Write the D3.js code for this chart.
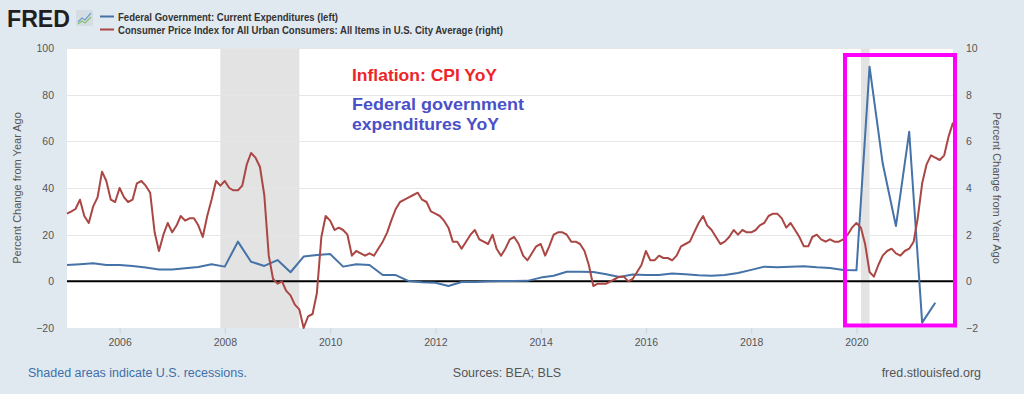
<!DOCTYPE html>
<html>
<head>
<meta charset="utf-8">
<script src="https://cdn.jsdelivr.net/npm/d3@7"></script>
<style>
  html, body { margin: 0; padding: 0; background: #e1e9f0; }
  svg { display: block; font-family: "Liberation Sans", Arial, sans-serif; }
</style>
</head>
<body>
<svg id="chart" width="1024" height="394"></svg>
<script>
// ---------- DATA ----------
const cpiStart = "2005-01-01";   // monthly, YoY % (right axis)
const cpiValues = [
  2.9, 3.0, 3.1, 3.5, 2.8, 2.5, 3.2, 3.6, 4.7, 4.3, 3.5, 3.4,
  4.0, 3.6, 3.4, 3.5, 4.2, 4.3, 4.1, 3.8, 2.1, 1.3, 2.0, 2.5,
  2.1, 2.4, 2.8, 2.6, 2.7, 2.7, 2.4, 1.9, 2.8, 3.5, 4.3, 4.1,
  4.3, 4.0, 3.9, 3.9, 4.1, 5.0, 5.5, 5.3, 4.9, 3.7, 1.1, 0.1,
  -0.1, 0.0, -0.4, -0.6, -1.0, -1.2, -2.0, -1.5, -1.4, -0.5, 1.9, 2.8,
  2.6, 2.2, 2.3, 2.2, 2.0, 1.1, 1.3, 1.2, 1.1, 1.2, 1.1, 1.4,
  1.7, 2.1, 2.6, 3.1, 3.4, 3.5, 3.6, 3.7, 3.8, 3.5, 3.4, 3.0,
  2.9, 2.8, 2.6, 2.3, 1.7, 1.7, 1.4, 1.7, 2.0, 2.2, 1.8, 1.7,
  1.6, 2.0, 1.4, 1.1, 1.4, 1.8, 1.9, 1.6, 1.1, 0.9, 1.2, 1.5,
  1.6, 1.1, 1.5, 2.0, 2.1, 2.1, 2.0, 1.7, 1.7, 1.6, 1.3, 0.7,
  -0.2, -0.1, -0.1, -0.1, 0.0, 0.1, 0.2, 0.2, 0.0, 0.1, 0.4, 0.7,
  1.3, 0.9, 0.9, 1.1, 1.0, 1.0, 0.9, 1.1, 1.5, 1.6, 1.7, 2.1,
  2.5, 2.8, 2.4, 2.2, 1.9, 1.6, 1.7, 1.9, 2.2, 2.0, 2.2, 2.1,
  2.1, 2.2, 2.4, 2.5, 2.8, 2.9, 2.9, 2.7, 2.3, 2.5, 2.2, 1.9,
  1.5, 1.5, 1.9, 2.0, 1.8, 1.7, 1.8, 1.7, 1.7, 1.8, 2.0, 2.3,
  2.5, 2.3, 1.6, 0.4, 0.2, 0.7, 1.1, 1.3, 1.4, 1.2, 1.1, 1.3,
  1.4, 1.7, 2.7, 4.2, 5.0, 5.4, 5.3, 5.2, 5.4, 6.2, 6.8
];
const fedStart = "2005-01-01";   // quarterly, YoY % (left axis)
const fedValues = [
  7.0, 7.3, 7.7, 7.0,
  7.0, 6.6, 5.9, 5.1,
  5.1, 5.6, 6.1, 7.3,
  6.3, 17.0, 8.4, 6.6,
  9.1, 3.9, 10.6, 11.3,
  11.7, 6.3, 7.3, 7.0,
  2.7, 2.7, 0.1, -0.4,
  -0.6, -2.0, -0.3, -0.3,
  0.0, 0.1, 0.1, 0.2,
  1.6, 2.4, 4.1, 4.1,
  4.0, 3.0, 1.9, 2.9,
  2.7, 2.7, 3.4, 3.0,
  2.6, 2.4, 2.7, 3.6,
  4.9, 6.3, 6.0, 6.3,
  6.5, 6.0, 5.7, 4.9,
  4.7, 92.0, 50.6, 23.7,
  64.1, -17.7, -9.2
];
const recessions = [["2007-12-01", "2009-06-01"], ["2020-02-01", "2020-04-01"]];
const xDomain = ["2005-01-01", "2021-11-01"];
const xTickYears = [2006, 2008, 2010, 2012, 2014, 2016, 2018, 2020];
const leftTicks = [-20, 0, 20, 40, 60, 80, 100];
const rightTicks = [-2, 0, 2, 4, 6, 8, 10];
const legendLabels = [
  "Federal Government: Current Expenditures (left)",
  "Consumer Price Index for All Urban Consumers: All Items in U.S. City Average (right)"
];
const axisTitle = "Percent Change from Year Ago";
const annotations = ["Inflation: CPI YoY", "Federal government", "expenditures YoY"];
const footer = ["Shaded areas indicate U.S. recessions.", "Sources: BEA; BLS", "fred.stlouisfed.org"];

// ---------- LAYOUT ----------
const P = { left: 67, right: 953, top: 48, bottom: 328 };
const BLUE = "#4572a7", RED = "#aa4643";
const parse = d3.timeParse("%Y-%m-%d");

const svg = d3.select("#chart");
const x = d3.scaleTime().domain(xDomain.map(parse)).range([P.left, P.right]);
const yL = d3.scaleLinear().domain([-20, 100]).range([P.bottom, P.top]);
const yR = d3.scaleLinear().domain([-2, 10]).range([P.bottom, P.top]);

const cpi = cpiValues.map((v, i) => ({ date: d3.timeMonth.offset(parse(cpiStart), i), v }));
const fed = fedValues.map((v, i) => ({ date: d3.timeMonth.offset(parse(fedStart), i * 3), v }));

// plot background
svg.append("rect").attr("x", P.left).attr("y", P.top)
  .attr("width", P.right - P.left).attr("height", P.bottom - P.top).attr("fill", "#ffffff");

// recessions
svg.append("g").selectAll("rect").data(recessions).join("rect")
  .attr("x", d => x(parse(d[0])))
  .attr("width", d => x(parse(d[1])) - x(parse(d[0])))
  .attr("y", P.top).attr("height", P.bottom - P.top)
  .attr("fill", "#e3e3e3");

// gridlines
svg.append("g").selectAll("line").data(leftTicks.filter(t => t !== -20)).join("line")
  .attr("x1", P.left).attr("x2", P.right)
  .attr("y1", d => Math.round(yL(d)) + 0.5).attr("y2", d => Math.round(yL(d)) + 0.5)
  .attr("stroke", "#e6e6e6").attr("stroke-width", 1);

// zero line
svg.append("line").attr("x1", P.left).attr("x2", P.right)
  .attr("y1", yL(0)).attr("y2", yL(0)).attr("stroke", "#000").attr("stroke-width", 2);

// left axis
const gL = svg.append("g").attr("transform", `translate(${P.left},0)`)
  .call(d3.axisLeft(yL).tickValues(leftTicks).tickSize(0).tickPadding(13));
gL.select(".domain").remove();
gL.selectAll("text").attr("fill", "#555").attr("font-size", 10.5).attr("font-family", "Liberation Sans, Arial, sans-serif");

// right axis
const gR = svg.append("g").attr("transform", `translate(${P.right},0)`)
  .call(d3.axisRight(yR).tickValues(rightTicks).tickSize(0).tickPadding(13));
gR.select(".domain").remove();
gR.selectAll("text").attr("fill", "#555").attr("font-size", 10.5).attr("font-family", "Liberation Sans, Arial, sans-serif");

// bottom axis
const gB = svg.append("g").attr("transform", `translate(0,${P.bottom})`)
  .call(d3.axisBottom(x).tickValues(xTickYears.map(y => new Date(y, 0, 1)))
    .tickFormat(d3.timeFormat("%Y")).tickSize(6).tickPadding(5));
gB.select(".domain").remove();
gB.selectAll("line").attr("stroke", "#c8d4e0");
gB.selectAll("text").attr("fill", "#555").attr("font-size", 10.5)
  .attr("font-family", "Liberation Sans Narrow, Liberation Sans, Arial, sans-serif");

// lines
svg.append("path").datum(fed)
  .attr("fill", "none").attr("stroke", BLUE).attr("stroke-width", 2).attr("stroke-linejoin", "round")
  .attr("d", d3.line().x(d => x(d.date)).y(d => yL(d.v)));
svg.append("path").datum(cpi)
  .attr("fill", "none").attr("stroke", RED).attr("stroke-width", 2).attr("stroke-linejoin", "round")
  .attr("d", d3.line().x(d => x(d.date)).y(d => yR(d.v)));

// axis titles
svg.append("text").attr("transform", `translate(21,${(P.top + P.bottom) / 2}) rotate(-90)`)
  .attr("text-anchor", "middle").attr("font-size", 11).attr("fill", "#555").text(axisTitle);
svg.append("text").attr("transform", `translate(993,${(P.top + P.bottom) / 2}) rotate(90)`)
  .attr("text-anchor", "middle").attr("font-size", 11).attr("fill", "#555").text(axisTitle);

// annotations
const annSpec = [
  { y: 81, fill: "#ee2428", len: 145 },
  { y: 110, fill: "#4a50c8", len: 172 },
  { y: 130, fill: "#4a50c8", len: 147 }
];
annotations.forEach((t, i) => {
  svg.append("text").attr("x", 352).attr("y", annSpec[i].y).attr("font-size", 17).attr("font-weight", "bold")
    .attr("fill", annSpec[i].fill).attr("textLength", annSpec[i].len).attr("lengthAdjust", "spacingAndGlyphs").text(t);
});

// magenta highlight box
svg.append("rect").attr("x", 845).attr("y", 55).attr("width", 110).attr("height", 270.5)
  .attr("fill", "none").attr("stroke", "#ff00ff").attr("stroke-width", 4);

// FRED logo
svg.append("text").attr("x", 7).attr("y", 27).attr("font-size", 24).attr("font-weight", "bold")
  .attr("fill", "#1f1f1f").attr("textLength", 63).attr("lengthAdjust", "spacingAndGlyphs").text("FRED");
const logo = svg.append("g").attr("transform", "translate(76,10)");
logo.append("rect").attr("width", 17).attr("height", 16).attr("rx", 1).attr("fill", "#d5dde4");
logo.append("path").attr("d", "M2,12 L6,8 L9,10 L15,3").attr("fill", "none").attr("stroke", "#6fa0c8").attr("stroke-width", 1.2);
logo.append("path").attr("d", "M2,14 L6,11 L9,13 L15,7").attr("fill", "none").attr("stroke", "#8abf6a").attr("stroke-width", 1.2);

// legend
const legendColors = [BLUE, RED];
const legendLens = [220, 385];
const leg = svg.append("g");
legendLabels.forEach((lab, i) => {
  const yy = 16.5 + i * 13;
  leg.append("line").attr("x1", 100).attr("x2", 114).attr("y1", yy).attr("y2", yy)
    .attr("stroke", legendColors[i]).attr("stroke-width", 2);
  leg.append("text").attr("x", 118).attr("y", yy + 4).attr("font-size", 10.5)
    .attr("fill", "#333").attr("font-weight", "bold")
    .attr("textLength", legendLens[i]).attr("lengthAdjust", "spacingAndGlyphs").text(lab);
});

// footer
svg.append("text").attr("x", 28).attr("y", 377).attr("font-size", 12.5).attr("fill", "#3e6fa8").text(footer[0]);
svg.append("text").attr("x", 507).attr("y", 377).attr("text-anchor", "middle").attr("font-size", 12.5).attr("fill", "#555").text(footer[1]);
svg.append("text").attr("x", 981).attr("y", 377).attr("text-anchor", "end").attr("font-size", 12.5).attr("fill", "#555").text(footer[2]);
</script>
</body>
</html>
